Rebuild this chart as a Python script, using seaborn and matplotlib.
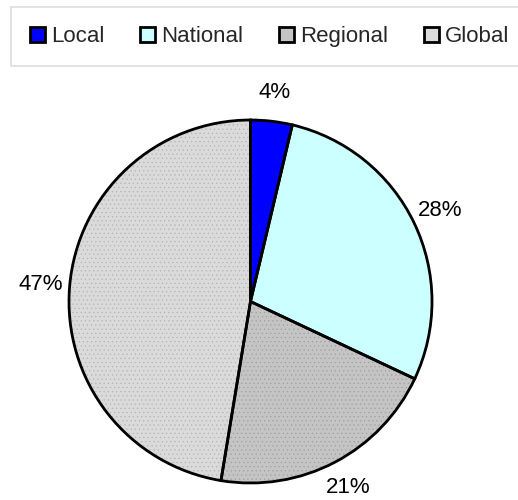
import matplotlib
matplotlib.use("Agg")
import matplotlib.pyplot as plt
from matplotlib.patches import Patch
import seaborn as sns

sns.set_style("white")
plt.rcParams["font.family"] = ["Liberation Sans", "DejaVu Sans"]

# share of respondents by market scope (slices)
scopes = ["Local", "National", "Regional", "Global"]
shares = [3.7, 28.3, 20.6, 47.4]
colors = ["#0000FF", "#CCFFFF", "#C4C4C4", "#DADADA"]
dots = ["#A0A0A0", "#B4B4B4"]

fig = plt.figure(figsize=(5.18, 5.0), dpi=100)
ax = fig.add_axes([(250.5 - 181.5) / 518, (500 - 301.5 - 181.5) / 500, 363 / 518, 363 / 500])

plt.rcParams["hatch.linewidth"] = 0.4
wedges, _, pct = ax.pie(
    shares, colors=colors, startangle=90, counterclock=False,
    autopct="%.0f%%", pctdistance=1.16, radius=1,
    wedgeprops=dict(linewidth=0),
    textprops=dict(fontsize=16, color="black"),
)
# dotted texture on the two grey slices
for w, dc in zip(wedges[2:], dots):
    w.set_hatch("....")
    w.set_edgecolor(dc)

# black outlines drawn on top
ax.pie(
    shares, colors=["none"] * 4, startangle=90, counterclock=False, radius=1,
    wedgeprops=dict(edgecolor="black", linewidth=2),
)
ax.set_xlim(-1, 1)
ax.set_ylim(-1, 1)

handles = [Patch(facecolor=c, edgecolor="black", linewidth=2) for c in colors]
leg = fig.legend(
    handles, scopes, loc="upper left", bbox_to_anchor=(11 / 518, 1 - 7 / 500),
    ncol=4, fontsize=16, frameon=True, fancybox=False, borderaxespad=0,
    handlelength=0.66, handleheight=0.66, handletextpad=0.3,
    columnspacing=1.6, borderpad=0.85,
)
leg.get_frame().set_edgecolor("#D4D4D4")
leg.get_frame().set_linewidth(1.2)

fig.savefig("out.png", dpi=100)
